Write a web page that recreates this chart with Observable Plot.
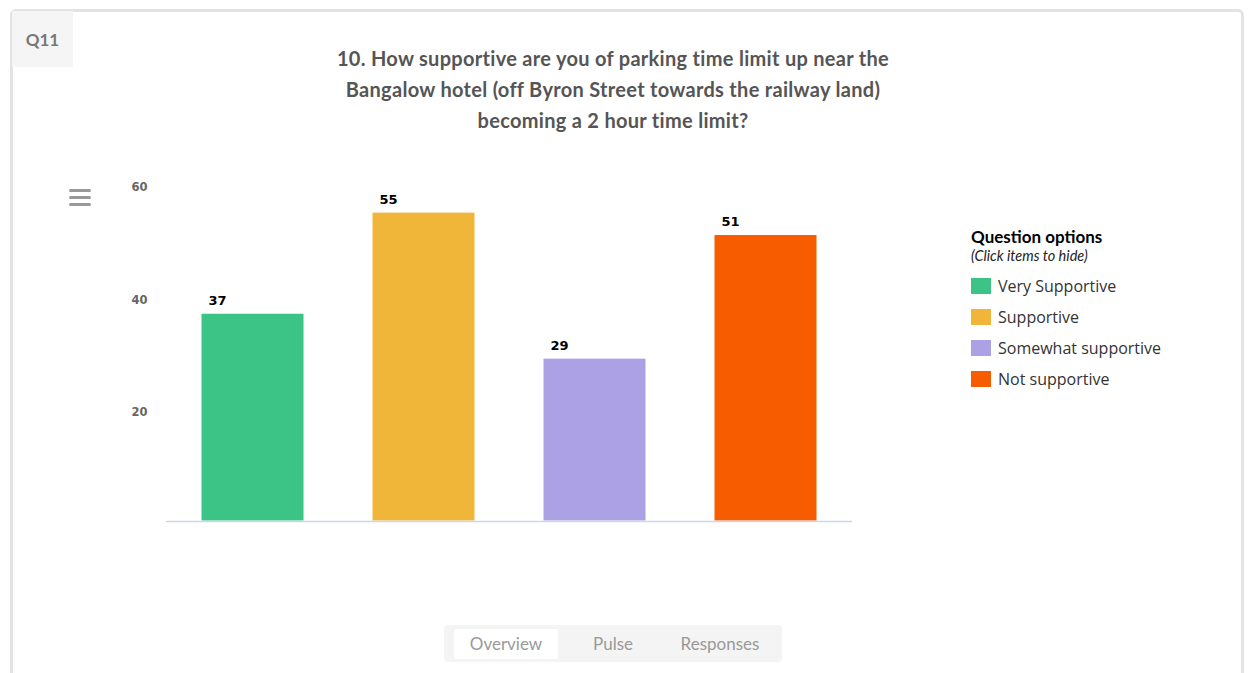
<!DOCTYPE html>
<html>
<head>
<meta charset="utf-8">
<script src="https://cdn.jsdelivr.net/npm/d3@7"></script>
<script src="https://cdn.jsdelivr.net/npm/@observablehq/plot@0.6"></script>
<style>
  html, body { margin: 0; padding: 0; background: #fff; }
  body { width: 1250px; height: 673px; position: relative; overflow: hidden; font-family: Lato, "Open Sans", sans-serif; }
  .card { position: absolute; left: 10px; top: 9px; width: 1234px; height: 700px; border: 3px solid #e3e3e3; border-radius: 6px; box-sizing: border-box; }
  .qbox { position: absolute; left: 12px; top: 11px; width: 61px; height: 56px; background: #f5f5f5; color: #777; font-weight: 700; font-size: 17px; display: flex; align-items: center; justify-content: center; font-family: Lato, sans-serif; }
  .title { position: absolute; left: 263px; width: 700px; top: 43.4px; text-align: center; color: #555; font-weight: 700; font-size: 20px; letter-spacing: 0.3px; line-height: 31px; font-family: Lato, sans-serif; }
  .menu { position: absolute; left: 69px; top: 189px; width: 22px; }
  .menu div { height: 3px; background: #999; border-radius: 2px; margin-bottom: 4px; }
  #chart { position: absolute; left: 0; top: 160px; }
  .legend { position: absolute; left: 971px; top: 226px; font-family: "Open Sans", sans-serif; }
  .legend .lt { font-family: Lato, sans-serif; font-weight: 700; font-size: 17px; color: #000; line-height: 21px; }
  .legend .ls { font-family: Lato, sans-serif; font-style: italic; font-size: 14.5px; color: #222; line-height: 17px; margin-bottom: 6px; }
  .legend .item { display: flex; align-items: center; height: 31px; font-size: 16px; color: #333; }
  .legend .sw { width: 20px; height: 16px; margin-right: 7px; }
  .tabs { position: absolute; left: 444px; top: 625px; width: 338px; height: 37px; background: #f4f4f4; border-radius: 4px; }
  .tab { position: absolute; top: 4px; height: 30px; line-height: 30px; text-align: center; color: #999; font-size: 17px; font-family: Lato, sans-serif; }
</style>
</head>
<body>
<div class="card"></div>
<div class="qbox">Q11</div>
<div class="title">10. How supportive are you of parking time limit up near the<br>Bangalow hotel (off Byron Street towards the railway land)<br>becoming a 2 hour time limit?</div>
<div class="menu"><div></div><div></div><div></div></div>
<div id="chart"></div>
<div class="legend" id="legend">
  <div class="lt">Question options</div>
  <div class="ls">(Click items to hide)</div>
</div>
<div class="tabs">
  <div class="tab" style="left:10px;width:104px;background:#fff;border-radius:2px;">Overview</div>
  <div class="tab" style="left:119px;width:100px;">Pulse</div>
  <div class="tab" style="left:226px;width:100px;">Responses</div>
</div>
<script>
const categories = ["Very Supportive", "Supportive", "Somewhat supportive", "Not supportive"];
const values = [37, 55, 29, 51];
const colors = ["#3bc486", "#f0b63a", "#ada1e6", "#f75c00"];
const yTicks = [20, 40, 60];

const data = categories.map((c, i) => ({ category: c, value: values[i] }));

const bandwidth = (852 - 166) / 4 * 0.6;

const chart = Plot.plot({
  width: 900,
  height: 380,
  marginLeft: 166,
  marginRight: 48,
  marginTop: 24,
  marginBottom: 19,
  style: { fontFamily: "DejaVu Sans, Verdana, sans-serif", background: "transparent" },
  x: { domain: categories, paddingInner: 0.4, paddingOuter: 0.2, axis: null },
  y: { domain: [0, 60] },
  color: { domain: categories, range: colors },
  marks: [
    Plot.axisY({ ticks: yTicks, tickSize: 0, tickPadding: 19, dy: 3, fontWeight: "bold", fontSize: 11.5, fill: "#666", label: null }),
    Plot.barY(data, { x: "category", y: "value", fill: "category", stroke: "#fff", strokeWidth: 1 }),
    Plot.ruleY([0], { stroke: "#ccd6eb", strokeWidth: 1.5 }),
    Plot.text(data, { x: "category", y: "value", text: d => String(d.value), textAnchor: "start", dx: -bandwidth / 2 + 7, dy: -13, fontWeight: "bold", fontSize: 13, fill: "#000" })
  ]
});
document.getElementById("chart").appendChild(chart);

const legend = document.getElementById("legend");
categories.forEach((c, i) => {
  const item = document.createElement("div");
  item.className = "item";
  const sw = document.createElement("span");
  sw.className = "sw";
  sw.style.background = colors[i];
  const t = document.createElement("span");
  t.textContent = c;
  item.appendChild(sw);
  item.appendChild(t);
  legend.appendChild(item);
});
</script>
</body>
</html>
